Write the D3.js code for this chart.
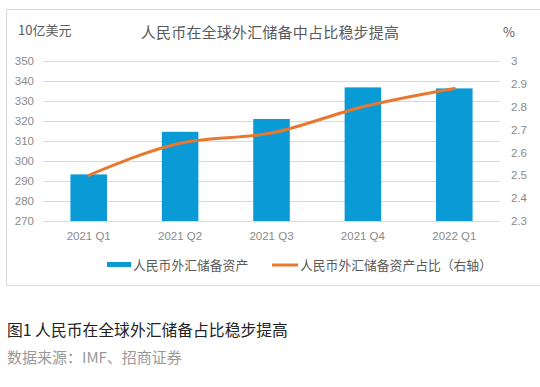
<!DOCTYPE html>
<html>
<head>
<meta charset="utf-8">
<script src="https://cdn.jsdelivr.net/npm/d3@7"></script>
<style>
  body { margin: 0; background: #fff; }
  text { font-family: "Noto Sans CJK SC", "Noto Sans", sans-serif; }
</style>
</head>
<body>
<div id="chart"></div>
<script>
// data
var quarters = ["2021 Q1", "2021 Q2", "2021 Q3", "2021 Q4", "2022 Q1"]
var reserves = [293.3, 314.6, 321.0, 336.8, 336.3]
var share = [2.50, 2.64, 2.685, 2.80, 2.88]
var leftTicks = [270, 280, 290, 300, 310, 320, 330, 340, 350]
var rightTicks = [2.3, 2.4, 2.5, 2.6, 2.7, 2.8, 2.9, 3]

var width = 540, height = 387
var plot = {left: 43, right: 500, top: 61, bottom: 221}
var barColor = "#0a9bd6"
var lineColor = "#e8782f"
var tickColor = "#8a8a8a"

var svg = d3.select("#chart").append("svg")
    .attr("width", width)
    .attr("height", height)

// frame of the chart
svg.append("path")
    .attr("d", "M540,9.5 H6.5 V285.5 H540")
    .attr("fill", "none")
    .attr("stroke", "#d9d9d9")
    .attr("stroke-width", 1)

var x = d3.scaleBand()
    .domain(quarters)
    .range([plot.left, plot.right])
    .paddingInner(0.6)
    .paddingOuter(0.3)

var yL = d3.scaleLinear().domain([270, 350]).range([plot.bottom, plot.top])
var yR = d3.scaleLinear().domain([2.3, 3]).range([plot.bottom, plot.top])

// gridlines
svg.append("g").selectAll("line")
    .data(leftTicks)
    .enter().append("line")
    .attr("x1", plot.left).attr("x2", plot.right)
    .attr("y1", function(d) { return Math.round(yL(d)) + 0.5 })
    .attr("y2", function(d) { return Math.round(yL(d)) + 0.5 })
    .attr("stroke", "#d9d9d9")
    .attr("stroke-width", 1.2)

var leftAxis = svg.append("g")
    .attr("transform", "translate(" + plot.left + ",0)")
    .call(d3.axisLeft(yL).tickValues(leftTicks).tickSize(0).tickPadding(9))
leftAxis.select(".domain").remove()
leftAxis.selectAll("text")
    .attr("fill", tickColor)
    .style("font-size", "11.5px")
    .style("font-family", "'Liberation Sans', Arial, sans-serif")

var rightAxis = svg.append("g")
    .attr("transform", "translate(" + plot.right + ",0)")
    .call(d3.axisRight(yR).tickValues(rightTicks).tickSize(0).tickPadding(11).tickFormat(d3.format("")))
rightAxis.select(".domain").remove()
rightAxis.selectAll("text")
    .attr("fill", tickColor)
    .style("font-size", "11.5px")
    .style("font-family", "'Liberation Sans', Arial, sans-serif")

var xAxis = svg.append("g")
    .attr("transform", "translate(0," + plot.bottom + ")")
    .call(d3.axisBottom(x).tickSize(0).tickPadding(11))
xAxis.select(".domain").remove()
xAxis.selectAll("text")
    .attr("fill", tickColor)
    .style("font-size", "11.5px")
    .style("font-family", "'Liberation Sans', Arial, sans-serif")

// bars
svg.append("g").selectAll("rect")
    .data(reserves)
    .enter().append("rect")
    .attr("x", function(d, i) { return x(quarters[i]) })
    .attr("width", x.bandwidth())
    .attr("y", function(d) { return yL(d) })
    .attr("height", function(d) { return yL(270) - yL(d) })
    .attr("fill", barColor)

// share line
var line = d3.line()
    .x(function(d, i) { return x(quarters[i]) + x.bandwidth() / 2 })
    .y(function(d) { return yR(d) })
    .curve(d3.curveMonotoneX)

svg.append("path")
    .datum(share)
    .attr("d", line)
    .attr("fill", "none")
    .attr("stroke", lineColor)
    .attr("stroke-width", 3)
    .attr("stroke-linecap", "round")

// titles
svg.append("text")
    .attr("x", 270).attr("y", 38)
    .attr("text-anchor", "middle")
    .attr("fill", "#5a5a5a")
    .style("font-size", "15px")
    .style("letter-spacing", "0.2px")
    .text("人民币在全球外汇储备中占比稳步提高")

svg.append("text")
    .attr("x", 18).attr("y", 35)
    .attr("fill", "#5a5a5a")
    .style("font-size", "13px")
    .text("10亿美元")

svg.append("text")
    .attr("x", 503).attr("y", 37)
    .attr("fill", "#5a5a5a")
    .style("font-size", "13px")
    .text("%")

// legend
var legend = svg.append("g")
legend.append("rect")
    .attr("x", 107).attr("y", 262)
    .attr("width", 24).attr("height", 5)
    .attr("fill", barColor)
legend.append("text")
    .attr("x", 133).attr("y", 269.5)
    .attr("fill", "#5a5a5a")
    .style("font-size", "12.8px")
    .text("人民币外汇储备资产")
legend.append("line")
    .attr("x1", 272).attr("x2", 298)
    .attr("y1", 265).attr("y2", 265)
    .attr("stroke", lineColor)
    .attr("stroke-width", 3)
legend.append("text")
    .attr("x", 300).attr("y", 269.5)
    .attr("fill", "#5a5a5a")
    .style("font-size", "12.8px")
    .text("人民币外汇储备资产占比（右轴）")

// caption
svg.append("text")
    .attr("x", 7).attr("y", 336)
    .attr("fill", "#222")
    .style("font-size", "15.8px")
    .text("图1 人民币在全球外汇储备占比稳步提高")

svg.append("text")
    .attr("x", 7).attr("y", 363)
    .attr("fill", "#999")
    .style("font-size", "15px")
    .text("数据来源：IMF、招商证券")
</script>
</body>
</html>
